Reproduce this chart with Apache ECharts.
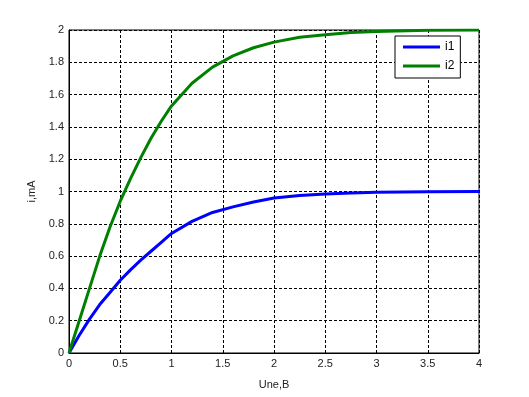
<!DOCTYPE html>
<html>
<head>
<meta charset="utf-8">
<script src="https://cdn.jsdelivr.net/npm/echarts@6/dist/echarts.min.js"></script>
<style>
  html, body { margin: 0; padding: 0; background: #fff; }
  #chart { width: 529px; height: 397px; }
</style>
</head>
<body>
<div id="chart"></div>
<script>
// напряжение, В
var voltage = [0, 0.1, 0.2, 0.3, 0.4, 0.5, 0.6, 0.7, 0.8, 0.9, 1.0, 1.2, 1.4, 1.6, 1.8, 2.0, 2.25, 2.5, 2.75, 3.0, 3.5, 4.0];
// токи, мА
var i1 = [0, 0.11, 0.21, 0.3, 0.375, 0.45, 0.515, 0.575, 0.63, 0.685, 0.74, 0.815, 0.87, 0.905, 0.935, 0.96, 0.975, 0.985, 0.99, 0.995, 0.998, 1.0];
var i2 = [0, 0.2, 0.4, 0.6, 0.78, 0.94, 1.08, 1.21, 1.33, 1.435, 1.53, 1.67, 1.77, 1.84, 1.89, 1.925, 1.955, 1.97, 1.985, 1.99, 1.998, 2.0];

var xTicks = { min: 0, max: 4, step: 0.5 };
var yTicks = { min: 0, max: 2, step: 0.2 };

function pairs(ys) {
    return voltage.map(function (x, k) { return [x, ys[k]]; });
}

var font = 'Liberation Sans, Arial, sans-serif';
var chart = echarts.init(document.getElementById('chart'));

chart.setOption({
    animation: false,
    backgroundColor: '#fff',
    grid: {
        left: 69, right: 50, top: 30, bottom: 44,
        show: true, borderColor: '#000', borderWidth: 1, backgroundColor: '#fff'
    },
    legend: {
        orient: 'vertical',
        left: 395, top: 36,
        backgroundColor: '#fff',
        borderColor: '#000', borderWidth: 1,
        padding: [5, 6, 6, 8],
        itemGap: 7,
        itemWidth: 37, itemHeight: 3,
        icon: 'rect',
        textStyle: { fontFamily: font, fontSize: 12, color: '#000' },
        data: ['i1', 'i2']
    },
    xAxis: {
        type: 'value',
        min: xTicks.min, max: xTicks.max, interval: xTicks.step,
        name: 'Une,B', nameLocation: 'middle', nameGap: 26,
        nameTextStyle: { fontFamily: font, fontSize: 11, color: '#222' },
        axisLine: { show: true, lineStyle: { color: '#000' } },
        axisTick: { show: false },
        axisLabel: { fontFamily: font, fontSize: 11, color: '#222', margin: 5 },
        splitLine: { show: true, lineStyle: { color: '#000', width: 1, type: [3, 2] } }
    },
    yAxis: {
        type: 'value',
        min: yTicks.min, max: yTicks.max, interval: yTicks.step,
        name: 'i,mA', nameLocation: 'middle', nameGap: 30,
        nameTextStyle: { fontFamily: font, fontSize: 11, color: '#222' },
        axisLine: { show: true, lineStyle: { color: '#000' } },
        axisTick: { show: false },
        axisLabel: { fontFamily: font, fontSize: 11, color: '#222', margin: 5 },
        splitLine: { show: true, lineStyle: { color: '#000', width: 1, type: [3, 2] } }
    },
    series: [
        {
            name: 'i1', type: 'line', data: pairs(i1),
            showSymbol: false, smooth: false,
            color: '#0000ff', lineStyle: { width: 3, color: '#0000ff' }
        },
        {
            name: 'i2', type: 'line', data: pairs(i2),
            showSymbol: false, smooth: false,
            color: '#008000', lineStyle: { width: 3, color: '#008000' }
        }
    ]
});
</script>
</body>
</html>
